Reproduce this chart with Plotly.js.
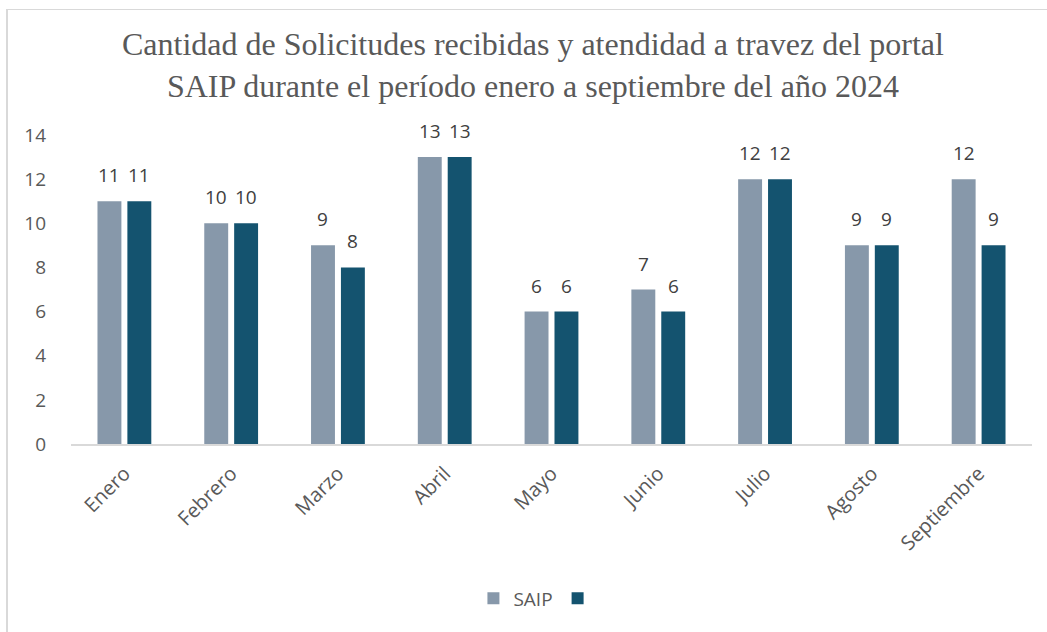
<!DOCTYPE html>
<html><head><meta charset="utf-8">
<script src="https://cdn.plot.ly/plotly-3.0.1.min.js"></script>
<style>html,body{margin:0;padding:0;background:#fff;overflow:hidden}
#frame{position:absolute;left:6px;top:9px;width:1100px;height:700px;border-top:1px solid #d9d9d9;border-left:2px solid #d9d9d9}
#chart{position:absolute;left:0;top:0;width:1047px;height:632px}</style>
</head><body><div id="frame"></div><div id="chart"></div>
<script>
const months = ["Enero","Febrero","Marzo","Abril","Mayo","Junio","Julio","Agosto","Septiembre"];
const saip = [11,10,9,13,6,7,12,9,12];
const atendidas = [11,10,8,13,6,6,12,9,9];
const yTicks = [0,2,4,6,8,10,12,14];

const sans = "Open Sans, Roboto, sans-serif";
const lblFont = {family:sans, size:19, color:"#404040"};
const traces = [
  {type:"bar", x:months, y:saip, name:"SAIP", marker:{color:"#8798aa"}},
  {type:"bar", x:months, y:atendidas, name:" ", marker:{color:"#14536f"}}
];
const annotations = [];
months.forEach((m,i)=>{
  annotations.push({x:m, y:saip[i], xref:"x", yref:"y", text:String(saip[i]), showarrow:false,
    xshift:-15, yshift:26, font:lblFont, xanchor:"center", yanchor:"middle"});
  annotations.push({x:m, y:atendidas[i], xref:"x", yref:"y", text:String(atendidas[i]), showarrow:false,
    xshift:15, yshift:26, font:lblFont, xanchor:"center", yanchor:"middle"});
});
const layout = {
  width:1047, height:632,
  paper_bgcolor:"rgba(0,0,0,0)", plot_bgcolor:"rgba(0,0,0,0)",
  margin:{l:71, r:15, t:135, b:188},
  title:{text:"Cantidad de Solicitudes recibidas y atendidad a travez del portal<br>SAIP durante el período enero a septiembre del año 2024",
    font:{family:"Liberation Serif, Times New Roman, serif", size:32, color:"#595959"},
    x:0.509, xanchor:"center", xref:"container", y:0.913, yref:"container", yanchor:"middle"},
  barmode:"group", bargap:0.44, bargroupgap:0.2,
  annotations:annotations,
  xaxis:{tickangle:-45, showline:true, linecolor:"#d9d9d9", linewidth:2, ticks:"", ticklabelstandoff:8,
    tickfont:{family:sans, size:20, color:"#595959"}, showgrid:false},
  yaxis:{range:[0,14], tickvals:yTicks, ticktext:yTicks.map(String), showgrid:false, zeroline:false,
    showline:false, ticks:"", ticklabelstandoff:24,
    tickfont:{family:sans, size:19, color:"#595959"}},
  showlegend:true,
  legend:{orientation:"h", x:0.489, xanchor:"center", y:-0.5, yanchor:"middle",
    font:{family:sans, size:19, color:"#595959"}, itemwidth:30}
};
Plotly.newPlot("chart", traces, layout, {displayModeBar:false, staticPlot:true});
</script></body></html>
